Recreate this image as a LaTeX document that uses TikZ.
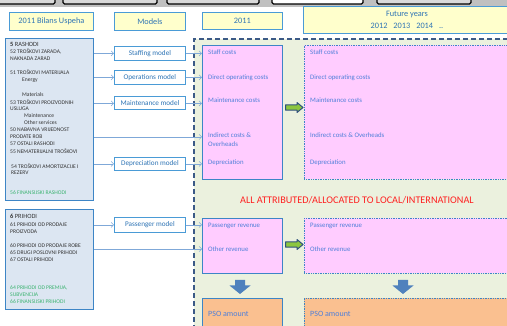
\documentclass[tikz,border=0pt]{standalone}
\usepackage{fontspec}
\setmainfont{Carlito}
\usetikzlibrary{arrows.meta}

\definecolor{hdrfill}{HTML}{FFFFCC}
\definecolor{hdrline}{HTML}{4A9BD6}
\definecolor{hdrtext}{HTML}{2E74B5}
\definecolor{ledger}{HTML}{DCE6F2}
\definecolor{ledgerline}{HTML}{3D85C6}
\definecolor{zone}{HTML}{EBF1DE}
\definecolor{zoneline}{HTML}{3B5A86}
\definecolor{pinkfill}{HTML}{FFCCFF}
\definecolor{itemtext}{HTML}{4F7FD9}
\definecolor{psofill}{HTML}{FAC090}
\definecolor{wire}{HTML}{7FA8D8}
\definecolor{greenarrow}{HTML}{8CC63F}
\definecolor{navy}{HTML}{2F4F7F}
\definecolor{downarrow}{HTML}{4F81BD}
\definecolor{finance}{HTML}{3CB371}
\definecolor{alert}{HTML}{FF2020}
\definecolor{band}{HTML}{C0C0C0}

\tikzset{
  header/.style={draw=hdrline, line width=0.8pt, fill=hdrfill, text=hdrtext,
    anchor=north west, inner sep=0pt, font=\fontsize{8.3}{10}\selectfont},
  ledgerbox/.style={draw=ledgerline, line width=0.8pt, fill=ledger, anchor=north west, inner sep=0pt},
  ltext/.style={anchor=west, inner sep=0pt, text=black!80, font=\fontsize{5.6}{6}\selectfont},
  ftext/.style={ltext, text=finance},
  modelbox/.style={draw=hdrline, line width=0.8pt, fill=white, text=hdrtext, inner sep=0pt,
    anchor=north west, minimum width=71pt, minimum height=14pt, font=\fontsize{7.2}{8}\selectfont},
  yearbox/.style={draw=ledgerline, line width=0.8pt, fill=pinkfill, anchor=north west, inner sep=0pt},
  futurebox/.style={draw=ledgerline, line width=0.7pt, densely dotted, fill=pinkfill, anchor=north west, inner sep=0pt},
  psobox/.style={draw=ledgerline, line width=0.8pt, fill=psofill, anchor=north west, inner sep=0pt},
  futurepso/.style={psobox, line width=0.7pt, densely dotted},
  item/.style={anchor=west, inner sep=0pt, text=itemtext, font=\fontsize{6.8}{7.5}\selectfont},
  wirearrow/.style={draw=wire, line width=0.6pt, -{Straight Barb[length=2.5pt,width=5pt,line width=0.5pt]}},
  carry/.style={draw=navy, line width=1pt, fill=greenarrow, line join=round},
  drop/.style={fill=downarrow},
  tab/.style={draw=black, line width=1.2pt, fill=band!60, rounded corners=1.5pt}
}

\begin{document}
\begin{tikzpicture}[x=1pt, y=-1pt]
\useasboundingbox (0,0) rectangle (507,326);
\clip (0,0) rectangle (507,326);

% strip of tabs along the top edge
\fill[band] (0,0) rectangle (507,7);
\draw[tab] (-5,-5) rectangle (55,4);
\draw[tab] (63,-5) rectangle (157,4);
\draw[tab] (167,-5) rectangle (259,4);
\draw[tab, fill=white] (272,-5) rectangle (363,4);
\draw[tab] (377,-5) rectangle (471,4);

% shaded zone holding the yearly figures
\fill[zone] (194,39) rectangle (512,330);
\draw[zoneline, line width=1.6pt, dash pattern=on 5pt off 3pt] (194,330) -- (194,39) -- (512,39);

% column headers
\node[header, minimum width=84pt, minimum height=18pt] (h1) at (9,12) {2011 Bilans Uspeha};
\node[header, minimum width=71pt, minimum height=18pt] (h2) at (114,12) {Models};
\node[header, minimum width=80pt, minimum height=17pt] (h3) at (202,12) {2011};
\node[header, minimum width=215pt, minimum height=27pt] (h4) at (303,6) {};
\node[inner sep=0pt, text=hdrtext, font=\fontsize{8.3}{10}\selectfont] (h4a) at (407,14.5) {Future years};
\node[inner sep=0pt, text=hdrtext, font=\fontsize{8.3}{10}\selectfont] (h4b) at (407,25.5) {2012\hspace{6pt}2013\hspace{6pt}2014\hspace{6pt}..};

% income statement: expenses
\node[ledgerbox, minimum width=88pt, minimum height=162pt] (rash) at (5,38) {};
\node[ltext, font=\fontsize{6.4}{7}\selectfont] (r0) at (10,44) {\textbf{5} RASHODI};
\node[ltext] (r1) at (10,52) {52 TROŠKOVI ZARADA,};
\node[ltext] (r2) at (10,58.5) {NAKNADA ZARAD};
\node[ltext] (r3) at (10,72) {51 TROŠKOVI MATERIJALA};
\node[ltext] (r4) at (22,80) {Energy};
\node[ltext] (r5) at (22,95) {Materials};
\node[ltext] (r6) at (10,102) {53 TROŠKOVI PROIZVODNIH};
\node[ltext] (r7) at (10,109) {USLUGA};
\node[ltext] (r8) at (24,116) {Maintenance};
\node[ltext] (r9) at (24,122.5) {Other services};
\node[ltext] (r10) at (10,129.5) {50 NABAVNA VRIJEDNOST};
\node[ltext] (r11) at (10,137) {PRODATE ROB};
\node[ltext] (r12) at (10,143.5) {57 OSTALI RASHODI};
\node[ltext] (r13) at (10,151) {55 NEMATERIJALNI TROŠKOVI};
\node[ltext] (r14) at (11,166) {54 TROŠKOVI AMORTIZACIJE I};
\node[ltext] (r15) at (11,173) {REZERV};
\node[ftext] (r16) at (10,193) {56 FINANSIJSKI RASHODI};

% income statement: revenues
\node[ledgerbox, minimum width=88pt, minimum height=100pt] (prih) at (5,209) {};
\node[ltext, font=\fontsize{6.4}{7}\selectfont] (p0) at (10,216) {\textbf{6} PRIHODI};
\node[ltext] (p1) at (10,225) {61 PRIHODI OD PRODAJE};
\node[ltext] (p2) at (10,232) {PROIZVODA};
\node[ltext] (p3) at (10,246) {60 PRIHODI OD PRODAJE ROBE};
\node[ltext] (p4) at (10,253) {65 DRUGI POSLOVNI PRIHODI};
\node[ltext] (p5) at (10,260) {67 OSTALI PRIHODI};
\node[ftext] (p6) at (10,288) {64 PRIHODI OD PREMIJA,};
\node[ftext] (p7) at (10,295) {SUBVENCIJA};
\node[ftext] (p8) at (10,302) {66 FINANSIJSKI PRIHODI};

% models
\node[modelbox] (mstaff) at (114,46) {Staffing model};
\node[modelbox] (mops) at (114,70) {Operations model};
\node[modelbox, minimum height=13pt] (mmaint) at (114,96.5) {Maintenance model};
\node[modelbox, minimum height=13pt] (mdep) at (114,157) {Depreciation model};
\node[modelbox, minimum height=15pt] (mpass) at (114,217) {Passenger model};

% 2011 cost and revenue blocks
\node[yearbox, minimum width=80pt, minimum height=134pt] (c11) at (202,45) {};
\node[item] (c1) at (208,52) {Staff costs};
\node[item] (c2) at (208,78) {Direct operating costs};
\node[item] (c3) at (208,100) {Maintenance costs};
\node[item] (c4) at (208,135.5) {Indirect costs \&};
\node[item] (c4b) at (208,144.5) {Overheads};
\node[item] (c5) at (208,162.5) {Depreciation};

\node[yearbox, minimum width=80pt, minimum height=55pt] (v11) at (202,218) {};
\node[item] (v1) at (208,226) {Passenger revenue};
\node[item] (v2) at (208,249) {Other revenue};

\node[psobox, minimum width=80pt, minimum height=40pt] (s11) at (202,298) {};
\node[item, font=\fontsize{8}{9}\selectfont] (s1) at (208,314) {PSO amount};

% future-year blocks
\node[futurebox, minimum width=215pt, minimum height=134pt] (cfut) at (304,45) {};
\node[item] (f1) at (310,52) {Staff costs};
\node[item] (f2) at (310,78) {Direct operating costs};
\node[item] (f3) at (310,100) {Maintenance costs};
\node[item] (f4) at (310,135.5) {Indirect costs \& Overheads};
\node[item] (f5) at (310,162.5) {Depreciation};

\node[futurebox, minimum width=215pt, minimum height=55pt] (vfut) at (304,218) {};
\node[item] (g1) at (310,226) {Passenger revenue};
\node[item] (g2) at (310,249) {Other revenue};

\node[futurepso, minimum width=215pt, minimum height=40pt] (sfut) at (304,298) {};
\node[item, font=\fontsize{8}{9}\selectfont] (t1) at (310,314) {PSO amount};

\node[inner sep=0pt, text=alert, font=\fontsize{10.2}{12}\selectfont] (alloc) at (357,200) {ALL ATTRIBUTED/ALLOCATED TO LOCAL/INTERNATIONAL};

% roll-forward arrows (2011 -> future years), drawn from their tail points
\coordinate (roll1) at (285.5,107.5);
\coordinate (roll2) at (285.5,244.5);
\foreach \c in {roll1, roll2}
  \draw[carry] (\c) ++(0,-2.6) -- ++(11.5,0) -- ++(0,-2.4) -- ++(6,5) -- ++(-6,5)
    -- ++(0,-2.4) -- ++(-11.5,0) -- cycle;

% result arrows pointing down to the PSO amount
\coordinate (down1) at (240,280);
\coordinate (down2) at (403,280);
\foreach \c in {down1, down2}
  \fill[drop] (\c) ++(-5,0) -- ++(10,0) -- ++(0,5.5) -- ++(5.5,0) -- ++(-10.5,8.5)
    -- ++(-10.5,-8.5) -- ++(5.5,0) -- cycle;

% ledger lines feeding the models
\draw[wirearrow] (rash.east |- mstaff) -- (mstaff.west);
\draw[wirearrow] (rash.east |- mops) -- (mops.west);
\draw[wirearrow] (rash.east |- mmaint) -- (mmaint.west);
\draw[wirearrow] (rash.east |- mdep) -- (mdep.west);
\draw[wirearrow] (prih.east |- mpass) -- (mpass.west);

% models feeding the 2011 figures
\draw[wirearrow] (mstaff.east) -- (c11.west |- mstaff);
\draw[wirearrow] (mops.east) -- (c11.west |- mops);
\draw[wirearrow] (mmaint.east) -- (c11.west |- mmaint);
\draw[wirearrow] (mdep.east) -- (c11.west |- mdep);
\draw[wirearrow] (mpass.east) -- (v11.west |- mpass);

% direct transfers without a model
\draw[wirearrow] (rash.east |- r11) -- (c11.west |- r11);
\draw[wirearrow] (prih.east |- v2) -- (v11.west |- v2);
\end{tikzpicture}
\end{document}
